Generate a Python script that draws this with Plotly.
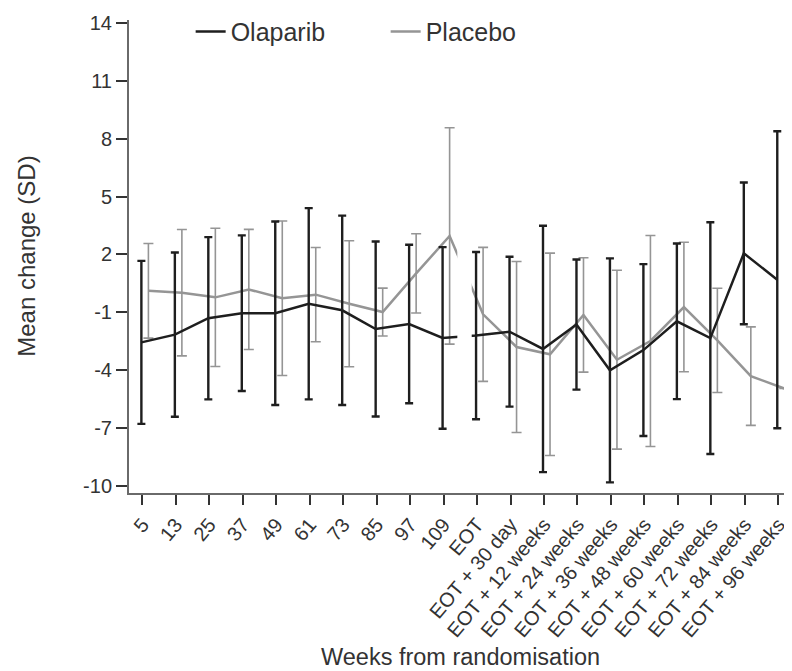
import plotly.graph_objects as go

categories = ["5", "13", "25", "37", "49", "61", "73", "85", "97", "109", "EOT",
              "EOT + 30 day", "EOT + 12 weeks", "EOT + 24 weeks", "EOT + 36 weeks",
              "EOT + 48 weeks", "EOT + 60 weeks", "EOT + 72 weeks", "EOT + 84 weeks",
              "EOT + 96 weeks"]

olaparib_mean = [-2.55, -2.15, -1.30, -1.04, -1.04, -0.55, -0.89, -1.86, -1.60, -2.32,
                 -2.20, -2.00, -2.89, -1.63, -4.00, -2.95, -1.46, -2.33, 2.06, 0.69]
olaparib_sd = [4.22, 4.25, 4.20, 4.03, 4.75, 4.95, 4.90, 4.53, 4.10, 4.70,
               4.33, 3.88, 6.38, 3.37, 5.80, 4.45, 4.03, 6.00, 3.67, 7.69]

placebo_mean = [0.12, 0.02, -0.22, 0.19, -0.27, -0.08, -0.55, -0.98, 1.02, 2.96,
                -1.10, -2.79, -3.17, -1.13, -3.45, -2.48, -0.72, -2.45, -4.30, -4.94]
placebo_sd = [2.45, 3.27, 3.58, 3.11, 4.00, 2.44, 3.26, 1.24, 2.05, 5.60,
              3.47, 4.43, 5.24, 2.96, 4.63, 5.46, 3.35, 2.70, 2.55, None]

y_ticks = [-10, -7, -4, -1, 2, 5, 8, 11, 14]

idx = list(range(len(categories)))
x_ola = [i - 0.03 for i in idx]
x_pla = [i + 0.18 for i in idx]

FONT = "Liberation Sans, Arial, sans-serif"
BLACK = "#1e1e1e"
GRAY = "#959595"
TEXT = "#333333"

fig = go.Figure()

fig.add_trace(go.Scatter(
    x=x_pla, y=placebo_mean, mode="lines", name="Placebo",
    line=dict(color=GRAY, width=2.5),
    error_y=dict(type="data", array=placebo_sd, visible=True, color=GRAY,
                 thickness=1.6, width=5),
    legendrank=2, cliponaxis=False,
))
fig.add_trace(go.Scatter(
    x=x_ola, y=olaparib_mean, mode="lines", name="Olaparib",
    line=dict(color=BLACK, width=2.5),
    error_y=dict(type="data", array=olaparib_sd, visible=True, color=BLACK,
                 thickness=2.4, width=4),
    legendrank=1, cliponaxis=False,
))

# break between on-treatment and post-treatment periods
fig.add_shape(type="rect", xref="x", yref="paper", x0=9.41, x1=9.84, y0=0.01, y1=1,
              fillcolor="white", line=dict(width=0), layer="above")

# the page body adds an 8px offset, so the figure is sized 784x663
fig.update_layout(
    width=784, height=663,
    margin=dict(l=121, r=0, t=12, b=178),
    paper_bgcolor="white", plot_bgcolor="white",
    font=dict(family=FONT, color=TEXT),
    showlegend=True,
    legend=dict(orientation="h", x=0.093, y=0.975, xanchor="left", yanchor="middle",
                font=dict(size=25, family=FONT, color=TEXT),
                bgcolor="rgba(0,0,0,0)", entrywidth=150, entrywidthmode="pixels"),
    xaxis=dict(
        range=[-0.40, 19.41], tickmode="array", tickvals=idx, ticktext=categories,
        tickangle=-50, tickfont=dict(size=20, family=FONT, color=TEXT),
        showline=True, linecolor="#6a6a6a", linewidth=2,
        ticks="outside", ticklen=10, tickwidth=2, tickcolor=TEXT,
        showgrid=False, zeroline=False, automargin=False,
    ),
    yaxis=dict(
        range=[-10.35, 14.14], tickmode="array", tickvals=y_ticks,
        ticktext=[str(v) for v in y_ticks],
        tickfont=dict(size=20, family=FONT, color=TEXT),
        showline=True, linecolor="#6a6a6a", linewidth=2,
        ticks="outside", ticklen=11, tickwidth=2, tickcolor=TEXT,
        showgrid=False, zeroline=False, automargin=False,
    ),
    annotations=[
        dict(text="Mean change (SD)", xref="paper", yref="paper",
             x=-0.155, y=0.50, textangle=-90, showarrow=False,
             xanchor="center", yanchor="middle",
             font=dict(size=24, family=FONT, color=TEXT)),
        dict(text="Weeks from randomisation", xref="paper", yref="paper",
             x=0.50, y=-0.3476, showarrow=False, xanchor="center", yanchor="middle",
             font=dict(size=23.5, family=FONT, color=TEXT)),
    ],
)

fig.write_html("out.html")
